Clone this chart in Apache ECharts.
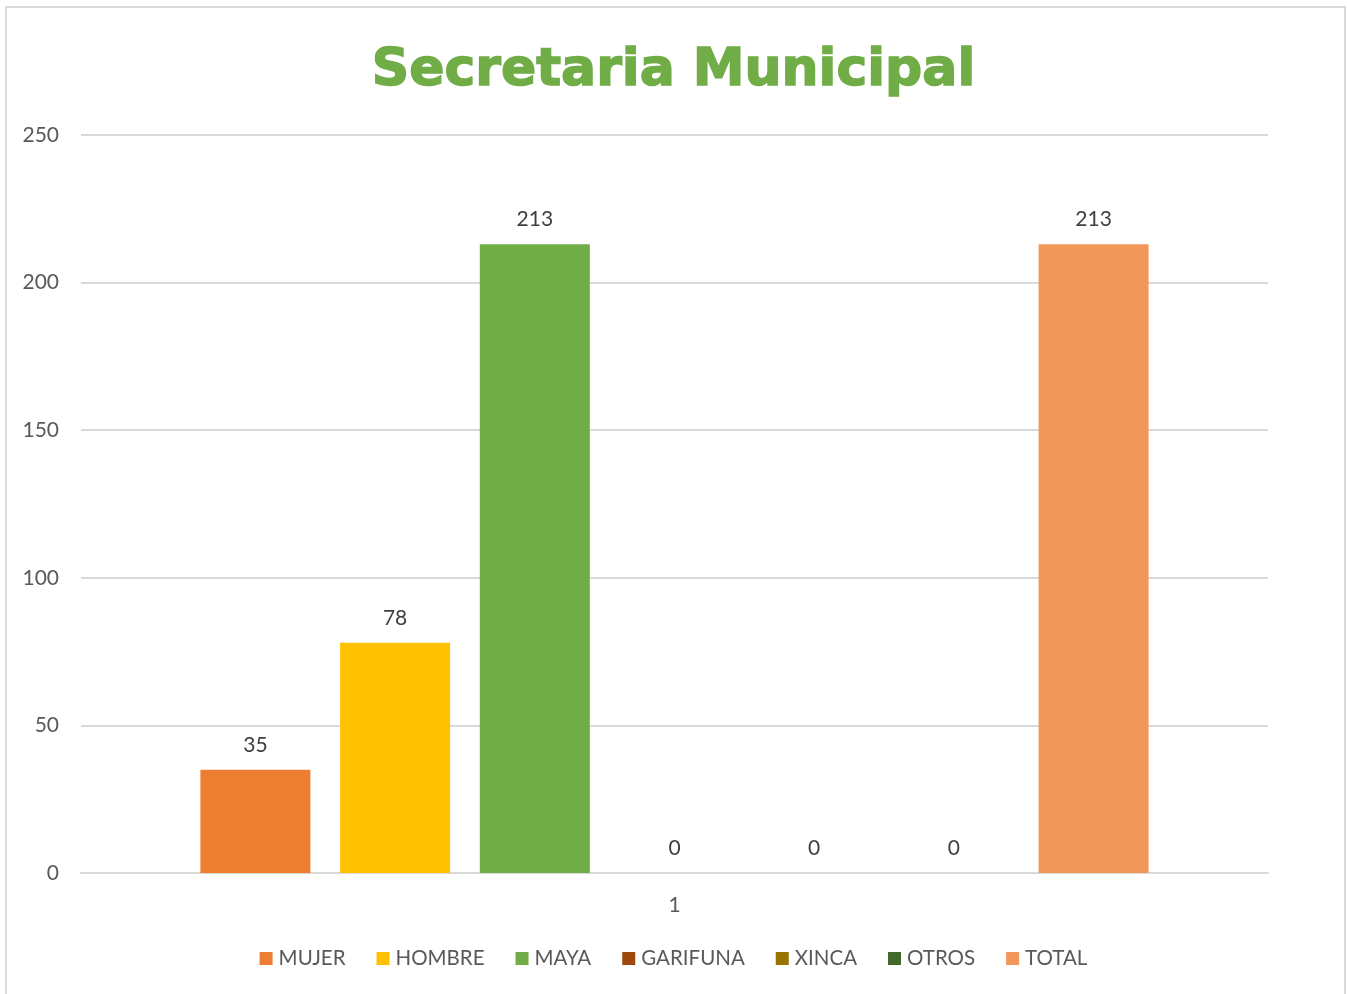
<!DOCTYPE html>
<html><head><meta charset="utf-8">
<script src="https://cdn.jsdelivr.net/npm/echarts@6/dist/echarts.min.js"></script>
<style>html,body{margin:0;padding:0;background:#fff}#c{width:1347px;height:994px}</style>
</head><body><div id="c"></div>
<script>
const categories = ['1'];
const seriesNames = ['MUJER','HOMBRE','MAYA','GARIFUNA','XINCA','OTROS','TOTAL'];
const seriesValues = [[35],[78],[213],[0],[0],[0],[213]];
const colors = ['#ED7D31','#FFC000','#70AD47','#9E480E','#997300','#43682B','#F1975A'];
const yTicks = {min:0, max:250, interval:50};
const font = 'Lato, "Noto Sans", sans-serif';
const chart = echarts.init(document.getElementById('c'));
chart.setOption({
  animation:false,
  title:{text:'Secretaria Municipal', left:'center', top:40,
    textStyle:{fontFamily:'"DejaVu Sans", sans-serif', fontWeight:'bold', fontSize:52, color:'#70AD47',
      textBorderColor:'#70AD47', textBorderWidth:1.5}},
  graphic:[{type:'rect', shape:{x:6,y:7,width:1339,height:1000}, style:{fill:null, stroke:'#d9d9d9', lineWidth:2}, silent:true}],
  legend:{bottom:20, left:'center', itemWidth:13, itemHeight:13, itemGap:31, icon:'rect',
    textStyle:{fontFamily:font, fontSize:20.5, color:'#595959', padding:[0,0,0,1]},
    data:seriesNames},
  grid:{left:81, right:79, top:135, bottom:121},
  xAxis:{type:'category', data:categories,
    axisLine:{lineStyle:{color:'#d9d9d9', width:2}}, axisTick:{show:false},
    axisLabel:{fontFamily:font, fontSize:21, color:'#595959', margin:22}},
  yAxis:{type:'value', min:yTicks.min, max:yTicks.max, interval:yTicks.interval,
    axisLine:{show:false}, axisTick:{show:false},
    splitLine:{lineStyle:{color:'#d9d9d9', width:2}},
    axisLabel:{fontFamily:font, fontSize:21, color:'#595959', margin:22}},
  series: seriesNames.map((n,i)=>({
    name:n, type:'bar', data:seriesValues[i], barWidth:110, barGap:'27%',
    itemStyle:{color:colors[i]},
    label:{show:true, position:'top', distance:14, fontFamily:font, fontSize:21, color:'#404040'}
  }))
});
</script></body></html>
